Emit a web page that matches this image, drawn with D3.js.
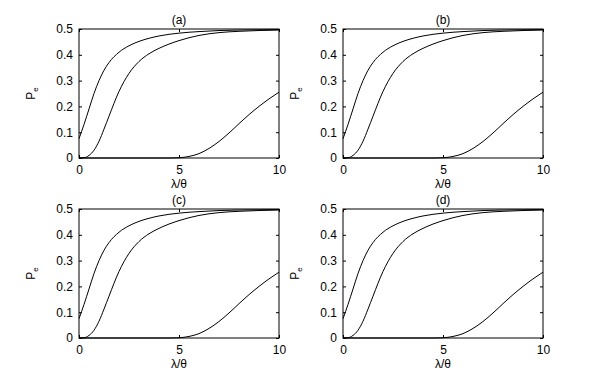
<!DOCTYPE html>
<html>
<head>
<meta charset="utf-8">
<script src="https://cdn.jsdelivr.net/npm/d3@7"></script>
<style>
  body { margin: 0; background: #fff; }
  text { font-family: "Liberation Sans", Arial, sans-serif; fill: #000; }
  .tick text { font-size: 12px; }
  .axis path { display: none; }
  .axis line { stroke: #000; }
</style>
</head>
<body>
<div class="graph"></div>
<script>
// panel titles
var panels = ["(a)", "(b)", "(c)", "(d)"];

// tick values
var xTicks = [0, 5, 10];
var yTicks = [0, 0.1, 0.2, 0.3, 0.4, 0.5];

// curve 1 (top)
var x1 = [0, 0.25, 0.5, 0.75, 1, 1.25, 1.5, 2, 2.5, 3, 3.5, 4, 5, 6, 7, 8, 10];
var y1 = [0.075, 0.13, 0.19, 0.25, 0.30, 0.34, 0.37, 0.41, 0.435, 0.452, 0.464, 0.473, 0.484, 0.49, 0.494, 0.496, 0.498];

// curve 2 (middle)
var x2 = [0, 0.25, 0.5, 0.75, 1, 1.25, 1.5, 2, 2.5, 3, 3.5, 4, 5, 6, 7, 8, 10];
var y2 = [0, 0.001, 0.01, 0.03, 0.065, 0.112, 0.162, 0.258, 0.328, 0.374, 0.404, 0.425, 0.455, 0.475, 0.486, 0.491, 0.496];

// curve 3 (bottom)
var x3 = [0, 4, 4.5, 5, 5.5, 6, 6.5, 7, 7.5, 8, 8.5, 9, 9.5, 10];
var y3 = [0, 0, 0, 0.001, 0.006, 0.017, 0.037, 0.064, 0.097, 0.133, 0.168, 0.2, 0.229, 0.255];

var curves = [[x1, y1], [x2, y2], [x3, y3]];

var svg = d3.select(".graph").append("svg")
    .attr("width", 599)
    .attr("height", 382);

var width = 200, height = 129;
var lefts = [79, 343], tops = [29, 209];

var x = d3.scaleLinear().domain([0, 10]).range([0, width]);
var y = d3.scaleLinear().domain([0, 0.5]).range([height, 0]);

var line = d3.line()
    .x(function(d) { return x(d[0]); })
    .y(function(d) { return y(d[1]); })
    .curve(d3.curveMonotoneX);

panels.forEach(function(title, i) {
  var g = svg.append("g")
      .attr("transform", "translate(" + lefts[i % 2] + "," + tops[Math.floor(i / 2)] + ")");

  // inward ticks on every side
  g.append("g").attr("class", "axis")
      .call(d3.axisLeft(y).tickValues(yTicks).tickSize(-3).tickPadding(6)
        .tickFormat(function(d) { return d === 0 ? "0" : d3.format(".1f")(d); }));
  g.append("g").attr("class", "axis")
      .attr("transform", "translate(" + width + ",0)")
      .call(d3.axisRight(y).tickValues(yTicks).tickSize(-3).tickFormat(""));
  g.append("g").attr("class", "axis")
      .attr("transform", "translate(0," + height + ")")
      .call(d3.axisBottom(x).tickValues(xTicks).tickSize(-3).tickPadding(7));
  g.append("g").attr("class", "axis")
      .call(d3.axisTop(x).tickValues(xTicks).tickSize(-3).tickFormat(""));

  g.append("rect")
      .attr("width", width)
      .attr("height", height)
      .attr("fill", "none")
      .attr("stroke", "#000")
      .attr("stroke-width", 1);

  curves.forEach(function(c) {
    g.append("path")
        .datum(c[0].map(function(v, k) { return [v, c[1][k]]; }))
        .attr("fill", "none")
        .attr("stroke", "#000")
        .attr("stroke-width", 1)
        .attr("d", line);
  });

  g.append("text")
      .attr("x", width / 2)
      .attr("y", -5)
      .attr("text-anchor", "middle")
      .style("font-size", "12px")
      .text(title);

  g.append("text")
      .attr("x", width / 2)
      .attr("y", height + 30)
      .attr("text-anchor", "middle")
      .style("font-size", "12px")
      .text("λ/θ");

  var yl = g.append("text")
      .attr("transform", "translate(-44," + (height / 2) + ") rotate(-90)")
      .attr("text-anchor", "middle")
      .style("font-size", "12px");
  yl.append("tspan").text("P");
  yl.append("tspan").attr("dy", 3).style("font-size", "8px").text("e");
});
</script>
</body>
</html>
